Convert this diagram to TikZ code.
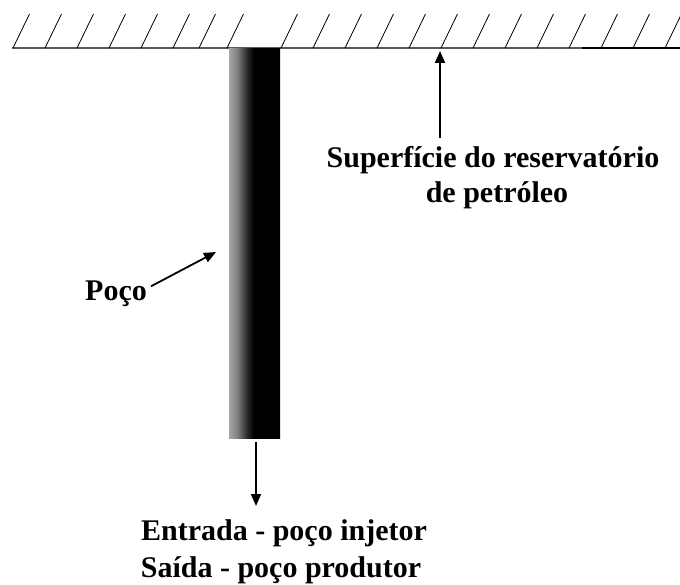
\documentclass[tikz,border=0pt]{standalone}
\usepackage{fontspec}
\setmainfont{Liberation Serif}
\usetikzlibrary{arrows.meta}
\pgfdeclarehorizontalshading{wellshade}{100bp}{color(0bp)=(black!35); color(25bp)=(black!35); color(33bp)=(black!50); color(42bp)=(black!82); color(49bp)=(black); color(100bp)=(black)}
\tikzset{
  lbl/.style={font=\fontsize{30}{36}\selectfont\bfseries, inner sep=0pt, align=center},
  arr/.style={-{Triangle[width=10pt,length=12pt]}, line width=1.8pt},
  hatch/.style={line width=0.8pt},
}
\begin{document}
\begin{tikzpicture}[x=1pt,y=-1pt]
\useasboundingbox (0,0) rectangle (680,585);
% surface line
\draw[line width=1.6pt, black!65] (12,48) -- (582,48);
\draw[line width=1.6pt, black] (582,48) -- (680,48);
% hatches
\foreach \x in {13,45,77,109,141,173,199,227,281,313,345,377,409,441,473,505,537,569,601,633,665}
  \draw[hatch] (\x,48) -- ++(16.5,-34);
% well
\node[draw=none, minimum width=51pt, minimum height=390pt, inner sep=0pt, shading=wellshade, anchor=north west] (well) at (229,48) {};
% labels
\node[lbl, anchor=base] (sup) at (493,168) {Superfície do reservatório};
\node[lbl, anchor=base] (sup2) at (497,203) {de petróleo};
\node[lbl, anchor=base west] (poco) at (85,301) {Poço};
\node[lbl, anchor=base] (ent) at (284,540) {Entrada - poço injetor};
\node[lbl, anchor=base] (sai) at (281,577) {Saída - poço produtor};
% connector points
\coordinate (surf) at (440,51);
\coordinate (wellpt) at (216,252);
\coordinate (out) at (256,506);
% arrows
\draw[arr] (sup.north -| surf) ++(0,-9) -- (surf);
\draw[arr] (poco.east) ++(4,-8) -- (wellpt);
\draw[arr] (well.south -| out) ++(0,4) -- (out);
\end{tikzpicture}
\end{document}
